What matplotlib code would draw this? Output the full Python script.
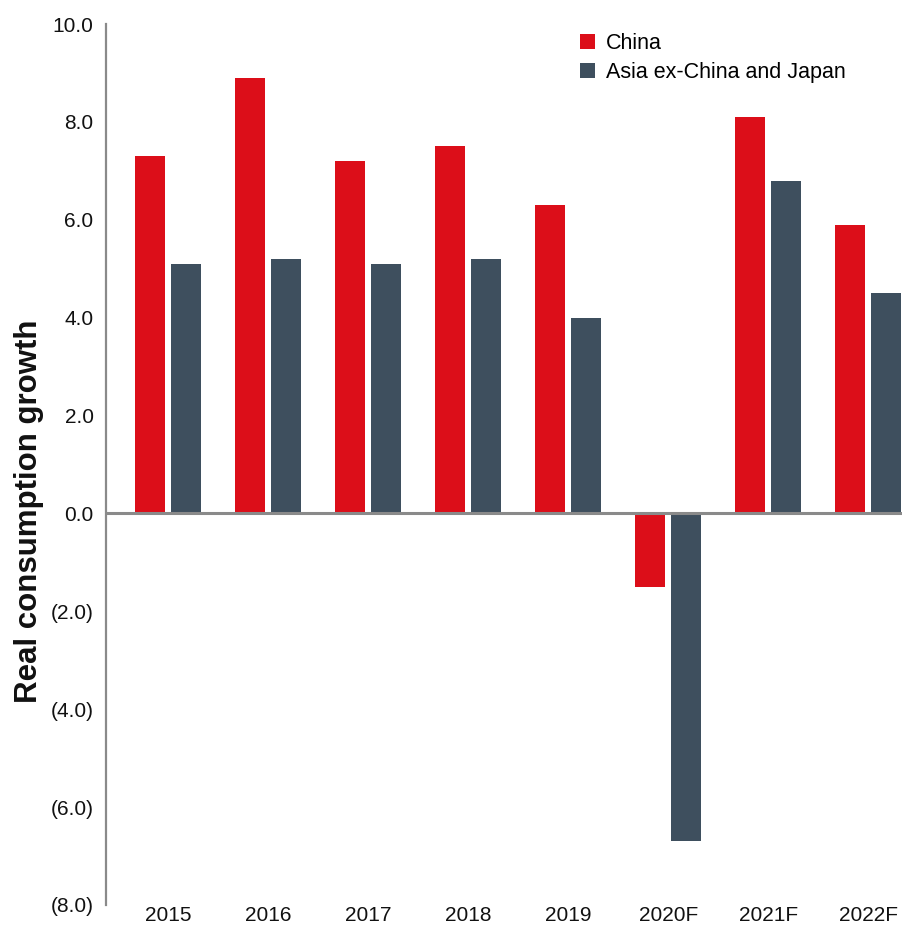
import numpy as np
import matplotlib
matplotlib.use("Agg")
import matplotlib.pyplot as plt
from matplotlib import font_manager

years = ["2015", "2016", "2017", "2018", "2019", "2020F", "2021F", "2022F"]
china = [7.3, 8.9, 7.2, 7.5, 6.3, -1.5, 8.1, 5.9]
asia_ex = [5.1, 5.2, 5.1, 5.2, 4.0, -6.7, 6.8, 4.5]
yticks = [10, 8, 6, 4, 2, 0, -2, -4, -6, -8]

red = "#dc0e19"
slate = "#3e4f5e"
axis_grey = "#8a8a8a"

names = {f.name for f in font_manager.fontManager.ttflist}
narrow = "Liberation Sans Narrow" if "Liberation Sans Narrow" in names else "Liberation Sans"
plt.rcParams["font.family"] = ["Liberation Sans", "DejaVu Sans"]

fig = plt.figure(figsize=(9.02, 9.27), dpi=100)
ax = fig.add_axes([106 / 902, 22 / 927, 1 - 106 / 902, 1 - 46 / 927])

x = np.arange(len(years))
w = 0.30
ax.bar(x - 0.18, china, width=w, color=red, label="China", zorder=2)
ax.bar(x + 0.18, asia_ex, width=w, color=slate, label="Asia ex-China and Japan", zorder=2)

ax.axhline(0, color=axis_grey, lw=2.2, zorder=3)
ax.set_xlim(-0.625, 7.34)
ax.set_ylim(-8, 10)

for s in ["top", "right", "bottom"]:
    ax.spines[s].set_visible(False)
ax.spines["left"].set_color(axis_grey)
ax.spines["left"].set_linewidth(1.6)

ax.set_yticks(yticks)
ax.set_yticklabels(["%.1f" % v if v >= 0 else "(%.1f)" % abs(v) for v in yticks],
                   fontsize=15, color="#111111")
ax.tick_params(axis="y", length=0, pad=9)

ax.set_xticks(x)
ax.set_xticklabels(years, fontsize=15, family=narrow, color="#111111")
ax.tick_params(axis="x", length=0, pad=1)

fig.text(29 / 902, 1 - 511 / 927, "Real consumption growth", rotation=90,
         ha="center", va="center", fontsize=22.5, fontweight="bold", color="#111111")

ax.legend(loc="upper left", bbox_to_anchor=(0.585, 1.0), frameon=False,
          fontsize=15.5, handlelength=0.7, handleheight=0.7, handletextpad=0.5,
          labelspacing=0.4, borderaxespad=0.0)

fig.savefig("out.png", dpi=100)
